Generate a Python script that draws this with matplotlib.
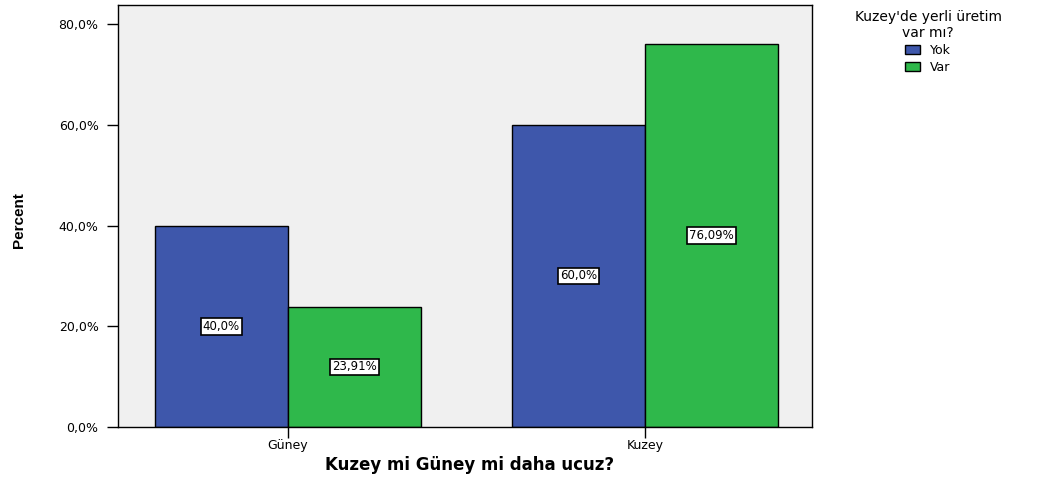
import matplotlib.pyplot as plt
import numpy as np

categories = ["Güney", "Kuzey"]
series_names = ["Yok", "Var"]
yok_values = [40.0, 60.0]
var_values = [23.91, 76.09]
yok_labels = ["40,0%", "60,0%"]
var_labels = ["23,91%", "76,09%"]
y_ticks = [0, 20, 40, 60, 80]
y_tick_labels = ["0,0%", "20,0%", "40,0%", "60,0%", "80,0%"]

blue = "#3e57ab"
green = "#2fb84b"

plt.rcParams['font.family'] = ['DejaVu Sans']

fig = plt.figure(figsize=(10.57, 4.79), dpi=100)
ax = fig.add_axes([0.1116, 0.1086, 0.6566, 0.8810])
ax.set_facecolor("#f0f0f0")

x = np.arange(len(categories))
w = 0.3725
bars_yok = ax.bar(x - w / 2, yok_values, w, color=blue, edgecolor="black", linewidth=1.0, label=series_names[0])
bars_var = ax.bar(x + w / 2, var_values, w, color=green, edgecolor="black", linewidth=1.0, label=series_names[1])

box = dict(boxstyle="square,pad=0.15", facecolor="white", edgecolor="black", linewidth=1.2)
for bars, labels in [(bars_yok, yok_labels), (bars_var, var_labels)]:
    for b, lab in zip(bars, labels):
        ax.text(b.get_x() + b.get_width() / 2, b.get_height() / 2, lab,
                ha="center", va="center", fontsize=8.5, bbox=box)

ax.set_xlim(-0.476, 1.468)
ax.set_ylim(0, 83.8)
ax.set_xticks(x)
ax.set_xticklabels(categories, fontsize=9)
ax.set_yticks(y_ticks)
ax.set_yticklabels(y_tick_labels, fontsize=9)
ax.tick_params(axis="both", direction="out", length=8, width=1, color="black")
ax.tick_params(axis="x", pad=1)
ax.tick_params(axis="y", pad=6)

for s in ax.spines.values():
    s.set_color("black")
    s.set_linewidth(1.0)

ax.set_xlabel("Kuzey mi Güney mi daha ucuz?", fontsize=12, fontweight="bold")
ax.xaxis.set_label_coords(0.506, -0.068)
ax.set_ylabel("Percent", fontsize=11, fontweight="bold", family="Liberation Sans")
ax.yaxis.set_label_coords(-0.143, 0.49)
ax.yaxis.label.set_verticalalignment("center")

leg = fig.legend(handles=[bars_yok, bars_var], labels=series_names,
                 title="Kuzey'de yerli üretim\nvar mı?", loc="upper center",
                 bbox_to_anchor=(0.878, 1.0), frameon=False, fontsize=9,
                 title_fontsize=10, alignment="center", handlelength=1.2,
                 handleheight=0.7, handletextpad=0.8, labelspacing=0.3,
                 borderpad=0.3)
leg.get_title().set_multialignment("center")

fig.savefig("out.png", dpi=100)
